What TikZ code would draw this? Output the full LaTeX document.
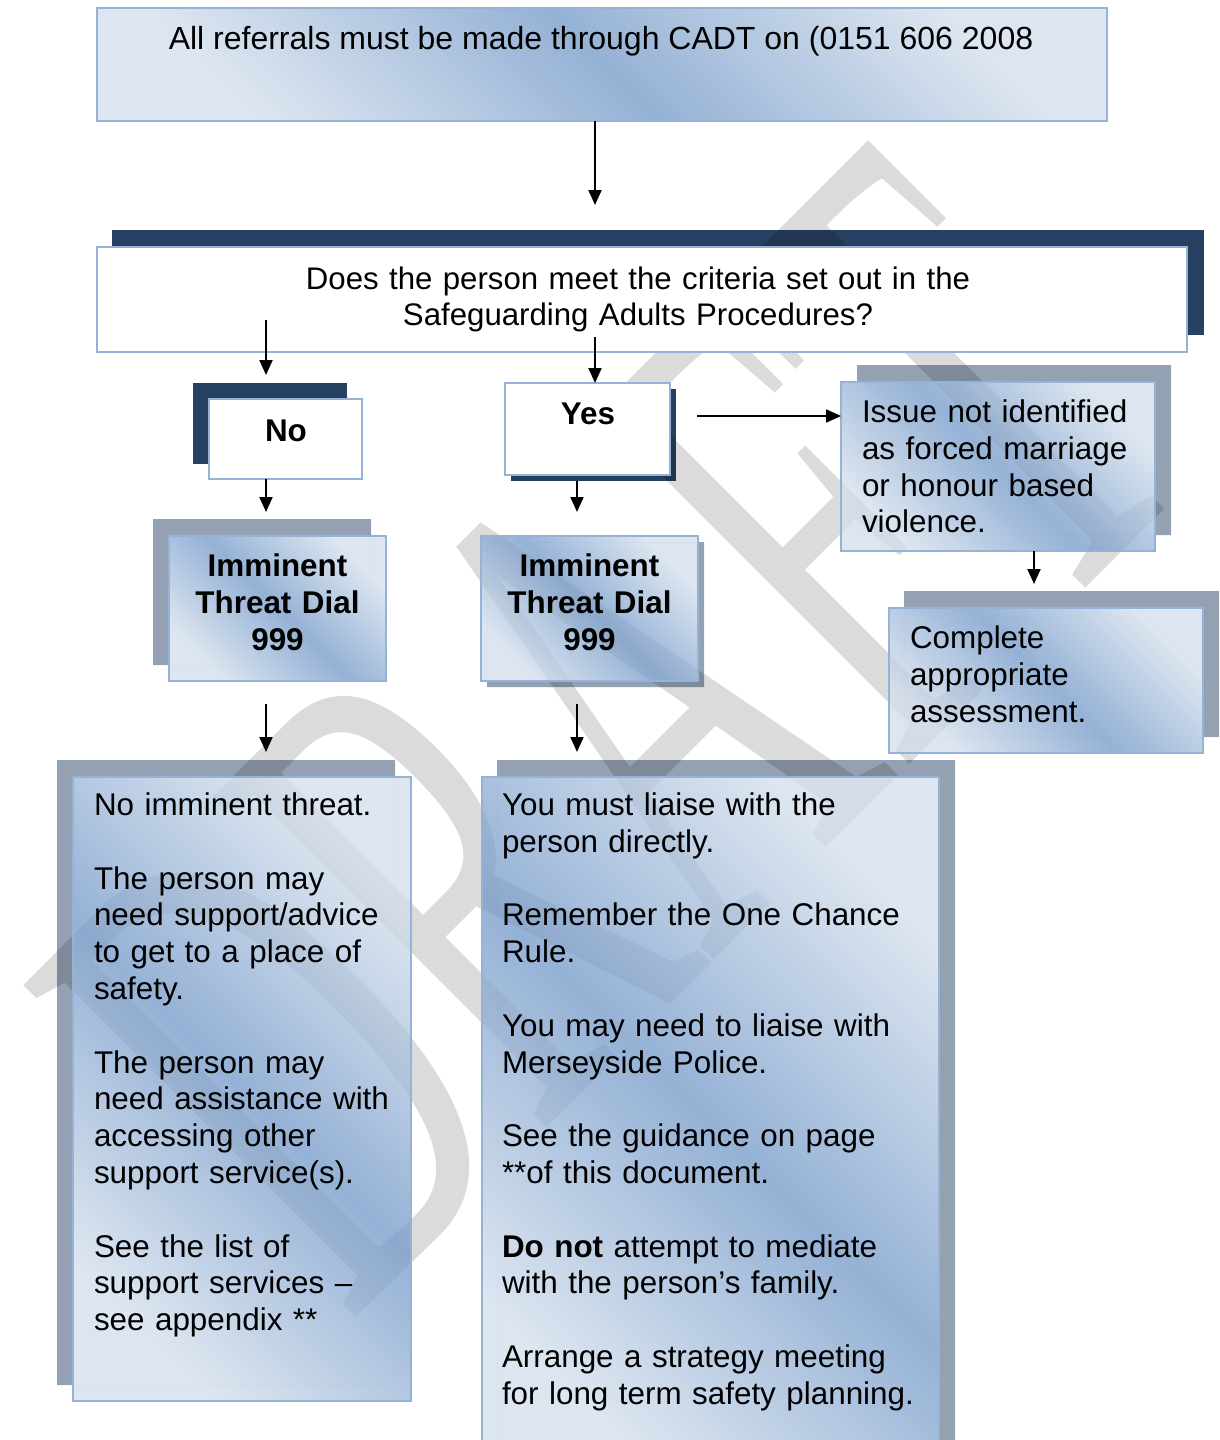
\documentclass[tikz,border=0pt]{standalone}
\usepackage{fontspec}
\setmainfont{Liberation Sans}
\newfontfamily\wmfont{Liberation Serif}
\usetikzlibrary{arrows.meta}

\definecolor{navy}{RGB}{38,64,97}
\definecolor{shadowgray}{RGB}{148,161,178}
\definecolor{edgeblue}{RGB}{149,179,215}
% gradient ends, laid semi-transparently over the page
\definecolor{paleblue}{RGB}{210,222,236}
\definecolor{midblue}{RGB}{114,152,200}

\tikzset{
  box/.style={rectangle, inner sep=0pt, outer sep=0pt, anchor=north west},
  plainbox/.style={box, draw=edgeblue, line width=1.3pt, fill=white},
  shadedbox/.style={box, draw=edgeblue, line width=1.3pt, fill opacity=0.75,
    left color=paleblue, right color=paleblue, middle color=midblue, shading angle=135},
  navyshade/.style={box, fill=navy},
  txt/.style={inner sep=0pt, outer sep=0pt, text=black,
    font=\fontsize{15.7pt}{18.4pt}\selectfont},
  boldtxt/.style={txt, font=\fontsize{15.7pt}{18.5pt}\selectfont\bfseries},
  arr/.style={-{Triangle[length=7.5pt,width=6.5pt]}, line width=1pt, draw=black},
  wm/.style={inner sep=0pt, outer sep=0pt, text=black, opacity=0.14,
    font=\wmfont\fontsize{185pt}{185pt}\selectfont, rotate=45, yscale=1.94}
}

% grey drop shadow #1 with the part #2 that its box covers left out
\newcommand\castshadow[2]{\fill[shadowgray, even odd rule] #1 #2;}

\begin{document}
\begin{tikzpicture}[x=0.5pt,y=-0.5pt]
\useasboundingbox (0,0) rectangle (1220,1440);
\clip (0,0) rectangle (1220,1440);
\fill[white] (0,0) rectangle (1220,1440);

% shadows
\node[navyshade, minimum width=546pt, minimum height=52.5pt] (crit-sh) at (112,230) {};
\node[navyshade, minimum width=77pt, minimum height=40.5pt] (no-sh) at (193,383) {};
\node[navyshade, minimum width=82.5pt, minimum height=46pt] (yes-sh) at (511,389) {};
\castshadow{(153,519) rectangle (371,665)}{(169,536) rectangle (371,665)}
\castshadow{(487,542) rectangle (704,687)}{(487,542) rectangle (698,681)}
\castshadow{(857,365) rectangle (1171,535)}{(857,382) rectangle (1155,535)}
\castshadow{(904,591) rectangle (1219,737)}{(904,608) rectangle (1203,737)}
\castshadow{(57,760) rectangle (395,1385)}{(73,777) rectangle (395,1385)}
\castshadow{(497,760) rectangle (955,1460)}{(497,777) rectangle (939,1460)}

% watermark, seen faintly through the shaded boxes
\node[wm] (draft) at (610,730) {DRAFT};

% boxes
\node[shadedbox, minimum width=505pt, minimum height=56.5pt] (refer) at (97,8) {};
\node[plainbox, minimum width=545pt, minimum height=52.5pt] (crit) at (97,247) {};
\node[plainbox, minimum width=76.5pt, minimum height=40pt] (no) at (209,399) {};
\node[plainbox, minimum width=82.5pt, minimum height=46pt] (yes) at (505,383) {};
\node[shadedbox, minimum width=108.5pt, minimum height=72.5pt] (imm1) at (169,536) {};
\node[shadedbox, minimum width=108.5pt, minimum height=72.5pt] (imm2) at (481,536) {};
\node[shadedbox, minimum width=157pt, minimum height=84.5pt] (issue) at (841,382) {};
\node[shadedbox, minimum width=157pt, minimum height=72.5pt] (compl) at (889,608) {};
\node[shadedbox, minimum width=169pt, minimum height=312pt] (left) at (73,777) {};
\node[shadedbox, minimum width=228.5pt, minimum height=346.5pt] (right) at (482,777) {};

% texts
\node[txt, font=\fontsize{16pt}{18.4pt}\selectfont, anchor=base] (refer-t) at (601,49.5)
  {All referrals must be made through CADT on (0151 606 2008};
\node[txt, font=\fontsize{15.6pt}{18.4pt}\selectfont, anchor=base, text width=400pt,
  align=center] (crit-t) at (638,289)
  {Does the person meet the criteria set out in the\\Safeguarding Adults Procedures?};
\node[boldtxt, anchor=base] (no-t) at (286,441.5) {No};
\node[boldtxt, anchor=base] (yes-t) at (588,424.5) {Yes};
\node[boldtxt, anchor=base, text width=120pt, align=center] (imm1-t) at (277.5,576.5)
  {Imminent\\Threat Dial\\999};
\node[boldtxt, anchor=base, text width=120pt, align=center] (imm2-t) at (589.5,576.5)
  {Imminent\\Threat Dial\\999};
\node[txt, anchor=base west, text width=145pt, align=left] (issue-t) at (862,422.5)
  {Issue not identified\\as forced marriage\\or honour based\\violence.};
\node[txt, anchor=base west, text width=140pt, align=left] (compl-t) at (910,648.5)
  {Complete\\appropriate\\assessment.};
\node[txt, anchor=base west, text width=160pt, align=left] (left-t) at (94,815.5)
  {No imminent threat.\\[18.4pt]
   The person may\\need support/advice\\to get to a place of\\safety.\\[18.4pt]
   The person may\\need assistance with\\accessing other\\support service(s).\\[18.4pt]
   See the list of\\support services –\\see appendix **};
\node[txt, anchor=base west, text width=215pt, align=left] (right-t) at (502,815.5)
  {You must liaise with the\\person directly.\\[18.4pt]
   Remember the One Chance\\Rule.\\[18.4pt]
   You may need to liaise with\\Merseyside Police.\\[18.4pt]
   See the guidance on page\\\relax **of this document.\\[18.4pt]
   {\bfseries Do not} attempt to mediate\\with the person’s family.\\[18.4pt]
   Arrange a strategy meeting\\for long term safety planning.};

% connector end points
\coordinate (crit-in) at (595,205);
\coordinate (no-from) at (266,320);
\coordinate (no-in) at (266,375);
\coordinate (yes-from) at (595,337);
\coordinate (imm1-in) at (266,512);
\coordinate (imm2-in) at (577,512);
\coordinate (issue-from) at (697,416);
\coordinate (compl-in) at (1034,584);
\coordinate (left-from) at (266,704);
\coordinate (left-in) at (266,752);
\coordinate (right-from) at (577,704);
\coordinate (right-in) at (577,752);

% connectors
\draw[arr] (refer.south -| crit-in) -- (crit-in);
\draw[arr] (no-from) -- (no-in);
\draw[arr] (yes-from) -- (yes.north -| yes-from);
\draw[arr] (no.south -| imm1-in) -- (imm1-in);
\draw[arr] (yes-sh.south -| imm2-in) -- (imm2-in);
\draw[arr] (issue-from) -- (issue.west |- issue-from);
\draw[arr] (issue.south -| compl-in) -- (compl-in);
\draw[arr] (left-from) -- (left-in);
\draw[arr] (right-from) -- (right-in);
\end{tikzpicture}
\end{document}
